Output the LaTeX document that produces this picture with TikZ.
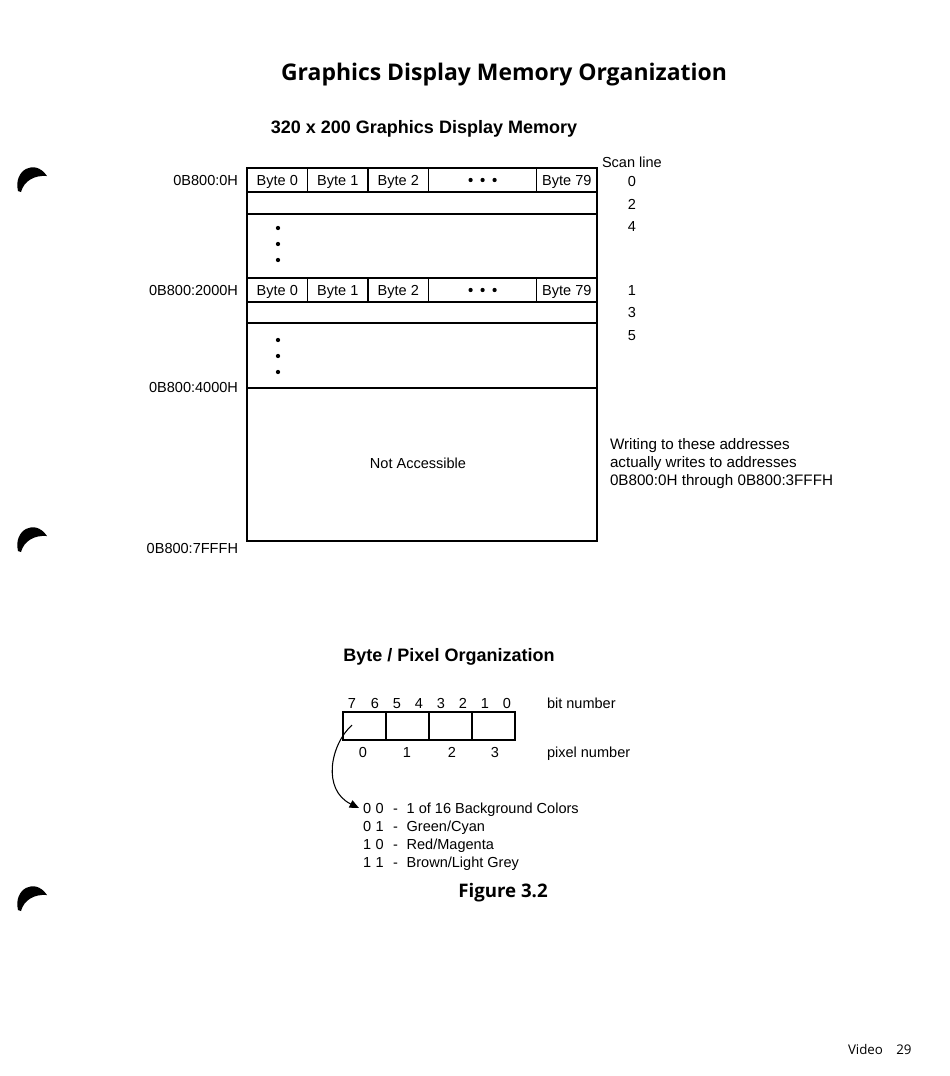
\documentclass[tikz,border=0pt]{standalone}
\usepackage{fontspec}
\setmainfont{Liberation Sans}
\newfontfamily\headfont{Open Sans}
\usetikzlibrary{positioning,arrows.meta}

\begin{document}
\begin{tikzpicture}[
x=0.75pt, y=-0.75pt,
every node/.style={
inner sep=0pt,
outer sep=0pt,
font=\fontsize{10.9}{13}\selectfont
},
arrow/.style={-{Triangle[length=7pt,width=6pt]}, line width=0.8pt}
]

% =====================================================
% Styles
% =====================================================

\tikzstyle{frame} =
[draw, line width=1.5pt]

\tikzstyle{rule} =
[draw, line width=0.9pt]

\tikzstyle{bytecell} =
[rectangle, draw, line width=0.9pt,
minimum height=18pt,
minimum width=45.4pt,
text height=7.8pt, text depth=0pt]

\tikzstyle{pixcell} =
[rectangle, draw, line width=0.9pt,
minimum height=21pt,
minimum width=32.25pt]

\tikzstyle{num} =
[text height=7.8pt, text depth=0pt]

\tikzstyle{addr} =
[anchor=east]

\tikzstyle{heading} =
[font=\bfseries\fontsize{13.5}{16}\selectfont]

\tikzstyle{blob} =
[fill=black]

\useasboundingbox (0,0) rectangle (950,1076);

% =====================================================
% Titles
% =====================================================

\node (title) at (504,75)
{\headfont\bfseries\fontsize{17.2}{20}\selectfont Graphics Display Memory Organization};

\node (maptitle) [heading] at (424,129)
{320 x 200 Graphics Display Memory};

% =====================================================
% Memory map
% =====================================================

\node (r0b0) [bytecell, anchor=north west] at (247,168) {Byte 0};
\node (r0b1) [bytecell, right=0pt of r0b0] {Byte 1};
\node (r0b2) [bytecell, right=0pt of r0b1] {Byte 2};
\node (r0dots) [bytecell, minimum width=81pt, right=0pt of r0b2] {};
\node (r0b79) [bytecell, right=0pt of r0dots] {Byte 79};

\node (r1b0) [bytecell, anchor=north west] at (247,278) {Byte 0};
\node (r1b1) [bytecell, right=0pt of r1b0] {Byte 1};
\node (r1b2) [bytecell, right=0pt of r1b1] {Byte 2};
\node (r1dots) [bytecell, minimum width=81pt, right=0pt of r1b2] {};
\node (r1b79) [bytecell, right=0pt of r1dots] {Byte 79};

% dots
\fill [blob] ([xshift=-9pt]r0dots.center) circle (1.6pt);
\fill [blob] (r0dots.center) circle (1.6pt);
\fill [blob] ([xshift=9pt]r0dots.center) circle (1.6pt);
\fill [blob] ([xshift=-9pt]r1dots.center) circle (1.6pt);
\fill [blob] (r1dots.center) circle (1.6pt);
\fill [blob] ([xshift=9pt]r1dots.center) circle (1.6pt);

\fill [blob] (278,228) circle (1.6pt);
\fill [blob] (278,244) circle (1.6pt);
\fill [blob] (278,260) circle (1.6pt);
\fill [blob] (278,340) circle (1.6pt);
\fill [blob] (278,356) circle (1.6pt);
\fill [blob] (278,372) circle (1.6pt);

\draw [rule] (247,214) -- (597,214);
\draw [rule] (247,323) -- (597,323);
\draw [rule] (247,388) -- (597,388);

\draw [frame] (247,168) rectangle (597,541);

\node (noaccess) at (418,463) {Not Accessible};

% addresses
\node (a0) [addr, num] at (238,180) {0B800:0H};
\node (a2000) [addr, num] at (238,290) {0B800:2000H};
\node (a4000) [addr, num] at (238,387) {0B800:4000H};
\node (a7fff) [addr, num] at (238,548) {0B800:7FFFH};

% scan lines
\node (scan) [anchor=west, num] at (602,162) {Scan line};
\node (s0) [num] at (632,181) {0};
\node (s2) [num] at (632,204) {2};
\node (s4) [num] at (632,226) {4};
\node (s1) [num] at (632,290) {1};
\node (s3) [num] at (632,312) {3};
\node (s5) [num] at (632,335) {5};

\node (note) [anchor=west, align=left,
font=\fontsize{11.4}{13.5}\selectfont] at (610,464)
{Writing to these addresses\\actually writes to addresses\\0B800:0H through 0B800:3FFFH};

% =====================================================
% Byte / pixel organization
% =====================================================

\node (pixtitle) [heading] at (449,657)
{Byte / Pixel Organization};

\node (bit7) [num] at (352,703) {7};
\node (bit6) [num] at (375,703) {6};
\node (bit5) [num] at (397,703) {5};
\node (bit4) [num] at (419,703) {4};
\node (bit3) [num] at (441,703) {3};
\node (bit2) [num] at (463,703) {2};
\node (bit1) [num] at (485,703) {1};
\node (bit0) [num] at (507,703) {0};
\node (bitlabel) [anchor=west, num] at (547,703) {bit number};

\node (pix0) [pixcell] at (364.5,726) {};
\node (pix1) [pixcell, right=0pt of pix0] {};
\node (pix2) [pixcell, right=0pt of pix1] {};
\node (pix3) [pixcell, right=0pt of pix2] {};
\draw [frame] (pix0.north west) rectangle (pix3.south east);

\node (pn0) [num] at (363,752) {0};
\node (pn1) [num] at (407,752) {1};
\node (pn2) [num] at (452,752) {2};
\node (pn3) [num] at (495,752) {3};
\node (pixlabel) [anchor=west, num] at (547,752) {pixel number};

\node (c00) [anchor=west, num] at (363,808)
{0\hspace{3.5pt}0\hspace{7pt}-\hspace{6.5pt}1 of 16 Background Colors};
\node (c01) [anchor=west, num] at (363,826)
{0\hspace{3.5pt}1\hspace{7pt}-\hspace{6.5pt}Green/Cyan};
\node (c10) [anchor=west, num] at (363,844)
{1\hspace{3.5pt}0\hspace{7pt}-\hspace{6.5pt}Red/Magenta};
\node (c11) [anchor=west, num] at (363,862)
{1\hspace{3.5pt}1\hspace{7pt}-\hspace{6.5pt}Brown/Light Grey};

\coordinate (pixsrc) at (352,725);
\draw [arrow] (pixsrc) .. controls (330,745) and (322,790) .. ([xshift=-3pt]c00.west);

\node (figure) at (503,893)
{\headfont\bfseries\fontsize{14}{16}\selectfont Figure 3.2};

\node (pageno) [anchor=west] at (848,1049)
{\headfont\fontsize{10}{12}\selectfont Video\hspace{10pt}29};

% =====================================================
% Binder holes
% =====================================================

\fill (18,191) .. controls (13,170) and (35,158) .. (47,176) .. controls (34,175) and (24,181) .. (21,192) -- cycle;
\fill (18,551) .. controls (13,530) and (35,518) .. (47,536) .. controls (34,535) and (24,541) .. (21,552) -- cycle;
\fill (18,910) .. controls (13,889) and (35,877) .. (47,895) .. controls (34,894) and (24,900) .. (21,911) -- cycle;

\end{tikzpicture}
\end{document}
